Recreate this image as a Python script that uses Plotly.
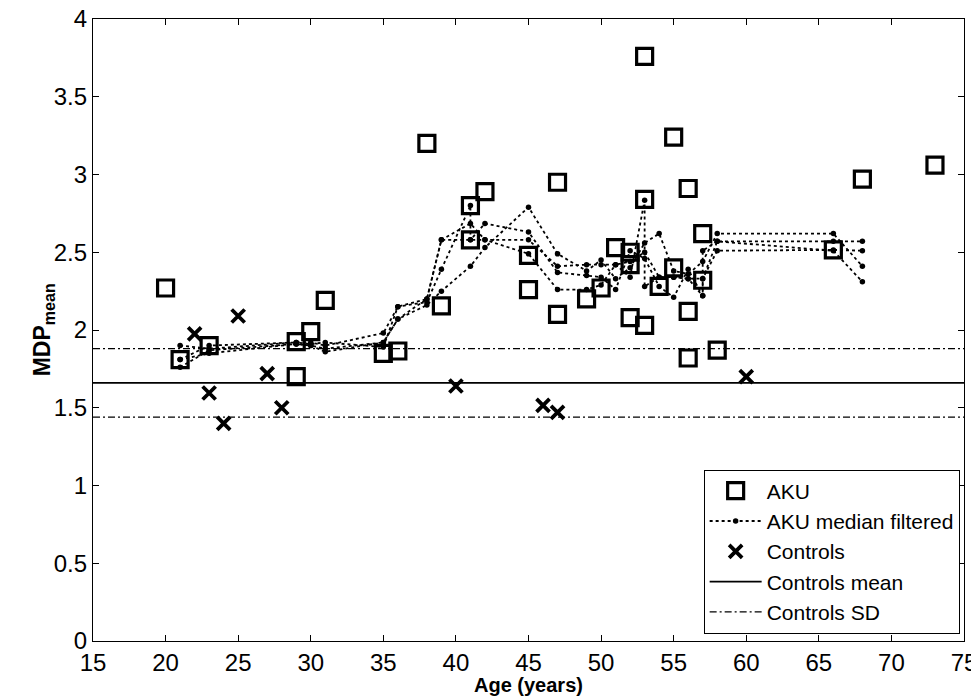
import plotly.graph_objects as go

# AKU raw data
aku_age = [20, 21, 23, 29, 29, 30, 31, 35, 36, 38, 39, 41, 41, 42, 45, 45, 47, 47, 49, 50,
           51, 52, 52, 52, 53, 53, 53, 54, 55, 55, 56, 56, 56, 57, 57, 58, 66, 68, 73]
aku_val = [2.27, 1.81, 1.90, 1.70, 1.925, 1.99, 2.19, 1.85, 1.865, 3.20, 2.155, 2.80, 2.58, 2.89,
           2.48, 2.26, 2.95, 2.10, 2.20, 2.27, 2.53, 2.50, 2.42, 2.08, 3.76, 2.84, 2.03, 2.28,
           3.24, 2.40, 2.91, 2.12, 1.82, 2.62, 2.32, 1.87, 2.515, 2.97, 3.06]

# Controls
ctrl_age = [22, 23, 24, 25, 27, 28, 40, 46, 47, 60]
ctrl_val = [1.975, 1.595, 1.40, 2.09, 1.72, 1.50, 1.64, 1.515, 1.47, 1.70]

ctrl_mean = 1.66
ctrl_sd_hi = 1.88
ctrl_sd_lo = 1.44
x_span = [15, 75]

# Median-filtered AKU curves (several filter widths)
mf1_age = [21, 23, 29, 30, 31, 35, 36, 38, 39, 41, 42, 45, 47, 49, 50, 51, 52, 53, 54, 55, 56, 57, 58, 66, 68]
mf1_val = [1.81, 1.90, 1.92, 1.92, 1.90, 1.98, 2.15, 2.20, 2.58, 2.58, 2.58, 2.58, 2.41, 2.42, 2.42, 2.42,
           2.44, 2.50, 2.34, 2.34, 2.33, 2.33, 2.57, 2.57, 2.57]
mf2_age = [21, 23, 29, 30, 31, 35, 36, 38, 39, 41, 42, 45, 47, 49, 50, 51, 52, 53, 54, 55, 56, 57, 58, 66, 68]
mf2_val = [1.76, 1.87, 1.91, 1.90, 1.88, 1.92, 2.07, 2.16, 2.25, 2.41, 2.53, 2.79, 2.49, 2.38, 2.45, 2.33,
           2.40, 2.56, 2.62, 2.38, 2.36, 2.44, 2.62, 2.62, 2.41]
mf3_age = [21, 23, 29, 30, 31, 35, 36, 38, 39, 41, 41, 42, 45, 47, 49, 50, 51, 52, 53, 54, 55, 56, 57, 57, 58, 66, 68]
mf3_val = [1.90, 1.88, 1.92, 1.91, 1.92, 1.89, 2.15, 2.18, 2.39, 2.80, 2.58, 2.685, 2.63, 2.37, 2.35, 2.34,
           2.26, 2.51, 2.46, 2.28, 2.21, 2.39, 2.22, 2.33, 2.51, 2.515, 2.51]
mf4_age = [21, 23, 29, 30, 31, 35, 36, 38, 39, 41, 42, 45, 47, 49, 50, 51, 52, 53, 53, 54, 55, 56, 57, 57, 58, 66, 68]
mf4_val = [1.81, 1.85, 1.91, 1.90, 1.86, 1.92, 2.07, 2.20, 2.58, 2.685, 2.58, 2.49, 2.26, 2.26, 2.29, 2.42,
           2.34, 2.835, 2.28, 2.34, 2.34, 2.33, 2.22, 2.51, 2.57, 2.51, 2.31]

mf_series = [(mf1_age, mf1_val), (mf2_age, mf2_val), (mf3_age, mf3_val), (mf4_age, mf4_val)]

fig = go.Figure()

for i, (a, v) in enumerate(mf_series):
    fig.add_trace(go.Scatter(
        x=a, y=v, mode="lines+markers", name="AKU median filtered",
        showlegend=(i == 0), legendrank=2,
        line=dict(color="black", width=1.8, dash="dot"),
        marker=dict(color="black", size=5.5, symbol="circle"),
    ))

fig.add_trace(go.Scatter(
    x=x_span, y=[ctrl_mean, ctrl_mean], mode="lines", name="Controls mean", legendrank=4,
    line=dict(color="black", width=1.8),
))
fig.add_trace(go.Scatter(
    x=x_span, y=[ctrl_sd_hi, ctrl_sd_hi], mode="lines", name="Controls SD", legendrank=5,
    line=dict(color="black", width=1.4, dash="7px,3px,2px,3px"),
))
fig.add_trace(go.Scatter(
    x=x_span, y=[ctrl_sd_lo, ctrl_sd_lo], mode="lines", name="Controls SD", showlegend=False,
    line=dict(color="black", width=1.4, dash="7px,3px,2px,3px"),
))

fig.add_trace(go.Scatter(
    x=aku_age, y=aku_val, mode="markers", name="AKU", legendrank=1,
    marker=dict(symbol="square-open", size=16, color="black", line=dict(width=3.2, color="black")),
))
fig.add_trace(go.Scatter(
    x=ctrl_age, y=ctrl_val, mode="markers", name="Controls", legendrank=3,
    marker=dict(symbol="x-thin-open", size=13, color="black", line=dict(width=3.8, color="black")),
))

font_family = "Liberation Sans, Arial, sans-serif"
axis_common = dict(
    showline=True, linecolor="black", linewidth=1.2, mirror="ticks",
    ticks="inside", ticklen=6, tickcolor="black", tickwidth=1,
    showgrid=False, zeroline=False, automargin=False, ticklabeloverflow="allow",
    tickfont=dict(family=font_family, size=24, color="black"),
)

fig.update_layout(
    width=979, height=698,
    margin=dict(l=85, r=23, t=11, b=65),
    paper_bgcolor="white", plot_bgcolor="white",
    font=dict(family=font_family, color="black"),
    xaxis=dict(range=[15, 75], dtick=5, tick0=15, **axis_common),
    yaxis=dict(range=[0, 4], dtick=0.5, tick0=0, **axis_common),
    legend=dict(
        x=0.995, y=0.012, xanchor="right", yanchor="bottom",
        bgcolor="white", bordercolor="black", borderwidth=1,
        font=dict(family=font_family, size=21, color="black"),
        tracegroupgap=0, itemwidth=52,
    ),
    annotations=[
        dict(text="<b>Age (years)</b>", xref="paper", yref="paper", x=0.5, y=-0.071,
             xanchor="center", yanchor="middle", showarrow=False,
             font=dict(family=font_family, size=20, color="black")),
        dict(text="<b>MDP<sub>mean</sub></b>", xref="paper", yref="paper", x=-0.057, y=0.5,
             xanchor="center", yanchor="middle", showarrow=False, textangle=-90,
             font=dict(family=font_family, size=23, color="black")),
    ],
)

fig.write_html("out.html")
